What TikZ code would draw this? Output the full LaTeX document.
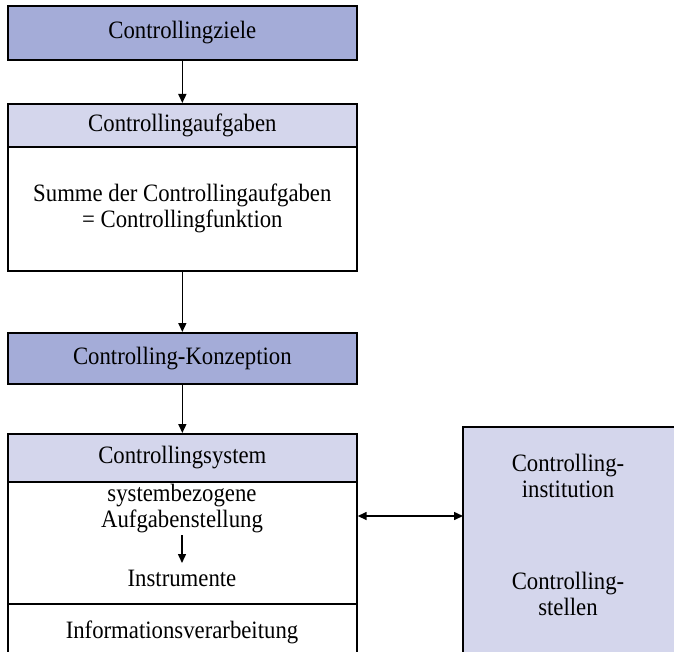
\documentclass[tikz,border=0pt]{standalone}
\usepackage{fontspec}
\setmainfont{Liberation Serif}[FakeStretch=0.91]
\usetikzlibrary{arrows.meta}
\definecolor{headdark}{RGB}{164,172,216}
\definecolor{headlight}{RGB}{212,214,236}
\tikzset{
  box/.style={draw=black, line width=1.7pt, anchor=north west, inner sep=0pt,
              minimum width=349pt, align=center, font=\fontsize{25}{26}\selectfont},
  txt/.style={inner sep=0pt, align=center, font=\fontsize{25}{26}\selectfont},
  flow/.style={line width=1.5pt, -{Triangle[length=9pt,width=8pt]}},
  both/.style={line width=1.5pt, {Triangle[length=9pt,width=8pt]}-{Triangle[length=9pt,width=8pt]}}
}
\begin{document}
\begin{tikzpicture}[x=1pt,y=-1pt]
  \useasboundingbox (0,0) rectangle (674,652);
  \clip (0,0) rectangle (674,652);

  % goals
  \node[box, fill=headdark, minimum height=54pt] (ziele) at (7,5) {Controllingziele};

  % tasks
  \node[box, fill=headlight, minimum height=43pt] (aufg) at (7,103) {Controllingaufgaben};
  \node[box, fill=white, minimum height=124pt] (summe) at (7,146)
       {Summe der Controllingaufgaben\\= Controllingfunktion};

  % concept
  \node[box, fill=headdark, minimum height=51pt] (konz) at (7,332) {Controlling-Konzeption};

  % system
  \node[box, fill=headlight, minimum height=48pt] (sys) at (7,433) {Controllingsystem};
  \node[box, fill=white, minimum height=122pt] (sysbody) at (7,481) {};
  \node[box, fill=white, minimum height=70pt] (info) at (7,603) {};
  \node[txt] (infotxt) at (182,632) {Informationsverarbeitung};
  \node[txt] (aufst) at (182,509) {systembezogene\\Aufgabenstellung};
  \node[txt] (instr) at (182,578) {Instrumente};

  % institution
  \node[fill=headlight, anchor=north west, inner sep=0pt,
        minimum width=240pt, minimum height=260pt] (inst) at (463,427) {};
  \draw[line width=1.7pt] (inst.south west) -- (inst.north west) -- (inst.north east);
  \node[txt] (instA) at (568,476) {Controlling-\\institution};
  \node[txt] (instB) at (568,594) {Controlling-\\stellen};

  % connectors
  \draw[flow] (ziele.south) -- (aufg.north);
  \draw[flow] (summe.south) -- (konz.north);
  \draw[flow] (konz.south) -- (sys.north);
  \draw[flow] (182,535) -- (182,563);
  \draw[both] (sysbody.east |- 0,516) -- (inst.west |- 0,516);
\end{tikzpicture}
\end{document}
